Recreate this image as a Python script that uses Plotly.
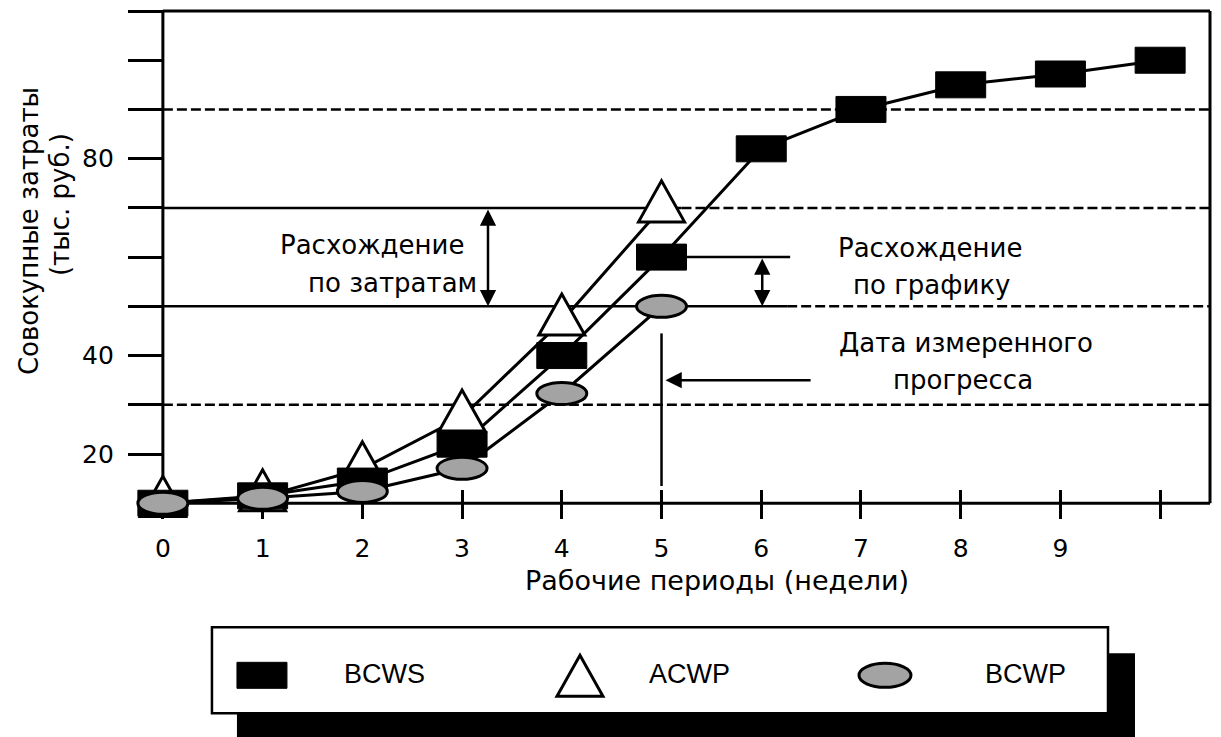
import plotly.graph_objects as go

# ---- data ----
periods = [0, 1, 2, 3, 4, 5, 6, 7, 8, 9, 10]
bcws = [10, 11.5, 14.5, 22, 40, 60, 82, 90, 95, 97.2, 100]
acwp_periods = [0, 1, 2, 3, 4, 5]
acwp = [10, 11.3, 17, 27.5, 47, 70]
bcwp_periods = [0, 1, 2, 3, 4, 5]
bcwp = [10, 11, 12.4, 17.1, 32.3, 50]

x_tick_values = [0, 1, 2, 3, 4, 5, 6, 7, 8, 9, 10]
x_tick_labels = ["0", "1", "2", "3", "4", "5", "6", "7", "8", "9", ""]
y_tick_values = [20, 30, 40, 50, 60, 70, 80, 90, 100, 110]
y_tick_labels = ["20", "", "40", "", "", "", "80", "", "", ""]
reference_levels = [30, 50, 70, 90]
status_period = 5

# ---- layout geometry (screen pixels; page body has an 8px margin) ----
OFF = 8
FW, FH = 1221 - OFF, 737 - OFF
X_RANGE = [-0.4, 10.5]      # a little room left of the y axis so markers are not clipped
Y_RANGE = [7, 110]          # a little room below the x axis
X0_AXIS, Y0_AXIS = 0, 10    # where the axes cross
T, R = 11, 1210             # top / right of plotting area on screen
UX = 99.72                  # px per period
UY = 4.92                   # px per unit of cost
Lp = R - (X_RANGE[1] - X_RANGE[0]) * UX
Bp = T + (Y_RANGE[1] - Y_RANGE[0]) * UY


def px(xp):
    return (xp - Lp) / (R - Lp)


def py(yp):
    return (Bp - yp) / (Bp - T)


yaxis_pos = (X0_AXIS - X_RANGE[0]) / (X_RANGE[1] - X_RANGE[0])
xaxis_pos = (Y0_AXIS - Y_RANGE[0]) / (Y_RANGE[1] - Y_RANGE[0])

FONT = "DejaVu Sans"
BLACK = "#000000"
ELL_FILL = "#a3a3a3"
TRI_PATH = "M -23 -14 L 23 -14 L 0 27 Z"

fig = go.Figure()

for xs, ys, name in [(periods, bcws, "BCWS"), (acwp_periods, acwp, "ACWP"),
                     (bcwp_periods, bcwp, "BCWP")]:
    fig.add_trace(go.Scatter(x=xs, y=ys, mode="lines", name=name,
                             line=dict(color=BLACK, width=3),
                             showlegend=False, hoverinfo="x+y+name"))

# dummy trace for the overlay axis carrying the upper half of the x ticks
fig.add_trace(go.Scatter(x=[], y=[], xaxis="x2", showlegend=False))

shapes = []
# frame: axes lines, top and right borders
frame = dict(layer="above", line=dict(color=BLACK, width=3))
shapes.append(dict(type="line", xref="x", yref="y", x0=X0_AXIS, x1=X_RANGE[1],
                   y0=Y0_AXIS, y1=Y0_AXIS, **frame))
shapes.append(dict(type="line", xref="x", yref="y", x0=X0_AXIS, x1=X0_AXIS,
                   y0=Y0_AXIS, y1=Y_RANGE[1], layer="below", line=dict(color=BLACK, width=3)))
shapes.append(dict(type="line", xref="x", yref="paper", x0=X0_AXIS, x1=X_RANGE[1],
                   y0=1, y1=1, **frame))
shapes.append(dict(type="line", xref="paper", yref="y", x0=1, x1=1,
                   y0=Y0_AXIS, y1=Y_RANGE[1], **frame))

# reference lines
si = status_period
solid_ends = {70: 5.2, 50: 6.26}
for lvl in reference_levels:
    start = X0_AXIS
    if lvl in solid_ends:
        shapes.append(dict(type="line", xref="x", yref="y", x0=X0_AXIS, x1=solid_ends[lvl],
                           y0=lvl, y1=lvl, layer="below",
                           line=dict(color=BLACK, width=2.5)))
        start = solid_ends[lvl]
    shapes.append(dict(type="line", xref="x", yref="y", x0=start, x1=X_RANGE[1],
                       y0=lvl, y1=lvl, layer="below",
                       line=dict(color=BLACK, width=2.5, dash="10px,4px")))

# schedule-variance leader line from BCWS at status date
shapes.append(dict(type="line", xref="x", yref="y", x0=periods[si], x1=6.29,
                   y0=bcws[si], y1=bcws[si], layer="below",
                   line=dict(color=BLACK, width=2.5)))
# status-date vertical line
shapes.append(dict(type="line", xref="x", yref="y", x0=status_period, x1=status_period,
                   y0=44.5, y1=13.5, layer="below",
                   line=dict(color=BLACK, width=2.5)))

# markers anchored on data values
for xv, yv in zip(acwp_periods, acwp):
    shapes.append(dict(type="path", xref="x", yref="y", xsizemode="pixel",
                       ysizemode="pixel", xanchor=xv, yanchor=yv, path=TRI_PATH,
                       fillcolor="white", line=dict(color=BLACK, width=3), layer="above"))
for xv, yv in zip(periods, bcws):
    shapes.append(dict(type="rect", xref="x", yref="y", xsizemode="pixel",
                       ysizemode="pixel", xanchor=xv, yanchor=yv,
                       x0=-25, x1=25, y0=-13, y1=13,
                       fillcolor=BLACK, line=dict(color=BLACK, width=1), layer="above"))
for xv, yv in zip(bcwp_periods, bcwp):
    shapes.append(dict(type="circle", xref="x", yref="y", xsizemode="pixel",
                       ysizemode="pixel", xanchor=xv, yanchor=yv,
                       x0=-25, x1=25, y0=-11, y1=11,
                       fillcolor=ELL_FILL, line=dict(color=BLACK, width=3), layer="above"))

# ---- legend box (manual) ----
shapes.append(dict(type="rect", xref="paper", yref="paper",
                   x0=px(237), x1=px(1135), y0=py(653), y1=py(745),
                   fillcolor=BLACK, line=dict(width=0), layer="above"))
shapes.append(dict(type="rect", xref="paper", yref="paper",
                   x0=px(212), x1=px(1108), y0=py(627), y1=py(713),
                   fillcolor="white", line=dict(color=BLACK, width=2.5), layer="above"))
shapes.append(dict(type="rect", xref="paper", yref="paper", xsizemode="pixel",
                   ysizemode="pixel", xanchor=px(262), yanchor=py(675),
                   x0=-25, x1=25, y0=-13, y1=13,
                   fillcolor=BLACK, line=dict(color=BLACK, width=1), layer="above"))
shapes.append(dict(type="path", xref="paper", yref="paper", xsizemode="pixel",
                   ysizemode="pixel", xanchor=px(580), yanchor=py(682), path=TRI_PATH,
                   fillcolor="white", line=dict(color=BLACK, width=3), layer="above"))
shapes.append(dict(type="circle", xref="paper", yref="paper", xsizemode="pixel",
                   ysizemode="pixel", xanchor=px(885), yanchor=py(675),
                   x0=-26, x1=26, y0=-12, y1=12,
                   fillcolor=ELL_FILL, line=dict(color=BLACK, width=3), layer="above"))

annotations = []


def txt(x, y, s, size=26, xanchor="center", ref="x", font=FONT, angle=0, yanchor="middle"):
    annotations.append(dict(x=x, y=y, xref=ref, yref=("y" if ref == "x" else "paper"),
                            text=s, showarrow=False, xanchor=xanchor, yanchor=yanchor,
                            textangle=angle,
                            font=dict(family=font, size=size, color=BLACK)))


# text labels (data coords)
txt(2.10, 62.4, "Расхождение")
txt(2.30, 54.7, "по затратам")
txt(7.70, 61.8, "Расхождение")
txt(7.71, 54.3, "по графику")
txt(8.05, 42.5, "Дата измеренного")
txt(8.02, 35.0, "прогресса")

# axis titles
txt(px(29), py(231), "Совокупные затраты", ref="paper", angle=-90)
txt(px(60), py(204), "(тыс. руб.)", ref="paper", angle=-90)
txt(px(717), py(580), "Рабочие периоды (недели)", size=27, ref="paper")

# legend labels
txt(px(342), py(674), "BCWS", size=27, xanchor="left", ref="paper", font="Liberation Sans")
txt(px(647), py(674), "ACWP", size=27, xanchor="left", ref="paper", font="Liberation Sans")
txt(px(983), py(674), "BCWP", size=27, xanchor="left", ref="paper", font="Liberation Sans")

# arrows
arrow_common = dict(showarrow=True, text="", xref="x", yref="y", axref="x", ayref="y",
                    arrowcolor=BLACK, arrowwidth=2.5, arrowhead=2, arrowsize=1.3)
annotations.append(dict(x=3.26, y=bcwp[si], ax=3.26, ay=acwp[si],
                        arrowside="end+start", startarrowhead=2, startarrowsize=1.3,
                        **arrow_common))
annotations.append(dict(x=6.01, y=bcwp[si], ax=6.01, ay=bcws[si],
                        arrowside="end+start", startarrowhead=2, startarrowsize=1.3,
                        **arrow_common))
annotations.append(dict(x=5.04, y=35, ax=6.51, ay=35, **arrow_common))

fig.update_layout(
    width=FW, height=FH,
    margin=dict(l=Lp - OFF, r=FW - (R - OFF), t=T - OFF, b=FH - (Bp - OFF), pad=0),
    paper_bgcolor="white", plot_bgcolor="white",
    showlegend=False,
    shapes=shapes, annotations=annotations,
    font=dict(family=FONT, size=25, color=BLACK),
    xaxis=dict(range=X_RANGE, tickvals=x_tick_values, ticktext=x_tick_labels,
               anchor="free", position=xaxis_pos,
               ticks="outside", ticklen=15, tickwidth=3, tickcolor=BLACK,
               showline=False, showgrid=False, zeroline=False, ticklabelstandoff=8,
               tickfont=dict(family=FONT, size=25)),
    xaxis2=dict(range=X_RANGE, overlaying="x", anchor="free", position=xaxis_pos,
                side="bottom",
                tickvals=x_tick_values, ticks="inside", ticklen=13, tickwidth=3,
                tickcolor=BLACK, showticklabels=False, showline=False,
                showgrid=False, zeroline=False),
    yaxis=dict(range=Y_RANGE, tickvals=y_tick_values, ticktext=y_tick_labels,
               anchor="free", position=yaxis_pos,
               ticks="outside", ticklen=35, tickwidth=3, tickcolor=BLACK,
               showline=False, showgrid=False, zeroline=False, ticklabelstandoff=9,
               tickfont=dict(family=FONT, size=25)),
)

fig.write_html("out.html")
